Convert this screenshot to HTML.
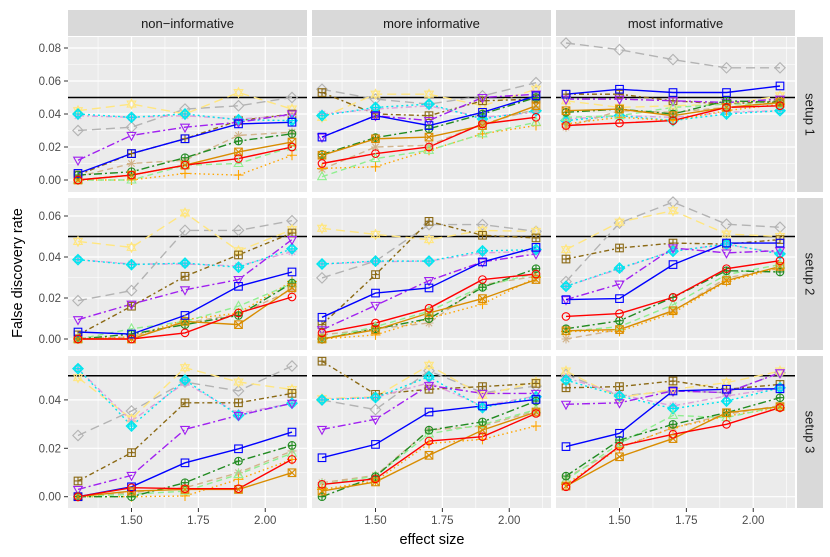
<!DOCTYPE html>
<html><head><meta charset="utf-8"><style>
body{margin:0;background:#fff;}
svg{display:block;font-family:"Liberation Sans",sans-serif;}
</style></head><body>
<svg id="chart" width="830" height="557" viewBox="0 0 830 557" xmlns="http://www.w3.org/2000/svg"></svg>
<script>
const effectSizes = [1.3, 1.5, 1.7, 1.9, 2.1];
const colLabels = ["non\u2212informative", "more informative", "most informative"];
const rowLabels = ["setup 1", "setup 2", "setup 3"];
const xTicks = [1.5, 1.75, 2.0];
const xTickLabels = ["1.50", "1.75", "2.00"];
const yTicksRow1 = [0, 0.02, 0.04, 0.06, 0.08];
const yTicksRow2 = [0, 0.02, 0.04, 0.06];
const yTicksRow3 = [0, 0.02, 0.04];
const fdrLevel = 0.05;
const redSeries = [
 [0,.003,.009,.013,.020],[.010,.016,.020,.034,.038],[.033,.0345,.036,.044,.045],
 [0,0,.003,.0127,.0205],[.003,.0078,.015,.029,.0317],[.011,.0124,.0203,.0343,.0382],
 [0,.0037,.0033,.0033,.0154],[.0051,.0074,.023,.0248,.0344],[.0041,.0209,.0258,.0299,.0368]];
const blueSeries = [
 [.004,.016,.025,.034,.035],[.026,.039,.033,.041,.051],[.052,.055,.053,.053,.057],
 [.0034,.0024,.0115,.0257,.0327],[.0106,.0224,.0249,.0376,.0447],[.0192,.0197,.0363,.0468,.0468],
 [0,.0041,.014,.0198,.0267],[.0161,.0216,.035,.0375,.0402],[.0207,.0262,.0437,.0444,.0446]];
const darkOrangeSeries = [
 [0,.003,.009,.017,.023],[.015,.025,.026,.033,.045],[.042,.043,.039,.044,.047],
 [0,0,.0086,.007,.025],[0,.0045,.0127,.0197,.029],[.004,.0046,.0138,.0285,.0354],
 [0,.0023,.003,.003,.0099],[.0023,.0061,.0171,.0275,.035],[.0044,.0165,.024,.0347,.0372]];
const darkGreenSeries = [
 [.003,.005,.0135,.0236,.028],[.0155,.0257,.031,.040,.050],[.041,.043,.040,.048,.047],
 [0,.0024,.007,.0115,.0273],[0,.005,.0099,.0252,.0343],[.005,.0089,.0203,.0333,.0327],
 [0,0,.0058,.0147,.0212],[0,.0083,.0275,.0309,.0395],[.0085,.0234,.0299,.0347,.0409]];
const lightGreenSeries = [
 [0,0,.009,.010,.020],[.002,.013,.018,.028,.035],[.038,.039,.044,.046,.046],
 [0,.005,.0086,.016,.027],[0,.006,.0135,.0257,.032],[.0037,.006,.0167,.0314,.0363],
 [0,.001,.0023,.0092,.018],[.005,.0085,.026,.0298,.0360],[.0069,.0220,.0336,.0327,.0375]];
const orangeDotSeries = [
 [0,0,.004,.003,.015],[.007,.008,.018,.028,.033],[.034,.038,.036,.042,.046],
 [0,.001,.0094,.0127,.0281],[0,.002,.010,.017,.030],[.0037,.0037,.0127,.0281,.0346],
 [0,0,.0003,.0072,.0154],[.003,.0065,.022,.0237,.0292],[.0051,.0202,.0285,.0333,.0368]];
const tanSeries = [
 [.002,.010,.012,.027,.029],[.0065,.020,.021,.034,.043],[.032,.042,.041,.044,.047],
 [0,.001,.008,.012,.024],[.002,.005,.0078,.0265,.0306],[0,.0046,.0135,.0298,.0346],
 [0,.0017,.0037,.0099,.0189],[.0058,.0088,.0275,.0292,.0354],[.0078,.0202,.0285,.0340,.0377]];
const purpleSeries = [
 [.012,.027,.032,.035,.040],[.026,.039,.036,.050,.052],[.049,.049,.048,.047,.049],
 [.0094,.017,.024,.029,.0485],[.0045,.0164,.0285,.0376,.0415],[.0192,.0268,.0444,.042,.0431],
 [.003,.0088,.0278,.0336,.0386],[.0278,.032,.046,.0427,.0427],[.0382,.0388,.0437,.043,.0512]];
const cyanSeries = [
 [.040,.038,.040,.0365,.036],[.039,.044,.046,.037,.042],[.036,.039,.036,.040,.042],
 [.0387,.0363,.037,.035,.044],[.0366,.038,.038,.043,.0436],[.0257,.0346,.0428,.0463,.0415],
 [.0529,.0292,.0482,.0336,.0386],[.040,.041,.0496,.0368,.0413],[.0482,.0416,.0364,.0395,.045]];
const plumSeries = [
 [.039,.038,.039,.037,.039],[.040,.043,.045,.038,.041],[.037,.039,.038,.041,.042],
 [.0387,.0366,.0366,.0356,.0426],[.0366,.0377,.038,.0420,.0428],[.0257,.0342,.0431,.0460,.0420],
 [.0529,.0313,.0471,.0344,.0386],[.0402,.0410,.0471,.0375,.0416],[.0492,.0423,.0375,.0416,.045]];
const graySeries = [
 [.030,.032,.043,.045,.050],[.055,.049,.046,.051,.059],[.083,.079,.073,.068,.068],
 [.0187,.0236,.053,.053,.0577],[.0298,.038,.0558,.0558,.0525],[.028,.0566,.0668,.056,.0545],
 [.0253,.0354,.0474,.0437,.054],[.040,.036,.052,.043,.0457],[.0505,.0416,.0437,.043,.0512]];
const brownSeries = [
 [.003,.016,.025,.036,.040],[.053,.040,.039,.048,.049],[.052,.052,.048,.046,.048],
 [.002,.016,.0306,.041,.0517],[.007,.0314,.0574,.0506,.0493],[.039,.0444,.0468,.0463,.0485],
 [.0065,.0182,.0388,.0388,.0427],[.056,.0423,.0444,.0455,.0468],[.045,.0455,.0478,.0444,.0464]];
const yellowSeries = [
 [.042,.046,.040,.053,.043],[.038,.052,.052,.045,.055],[.048,.044,.045,.046,.051],
 [.0476,.0447,.0615,.043,.0533],[.054,.051,.0485,.053,.0525],[.0436,.057,.0626,.0512,.050],
 [.0492,.0322,.0533,.0474,.0443],[.0405,.0413,.0543,.0419,.0474],[.0519,.0409,.0444,.0471,.0519]];

const series = [
 {name:'gray', data:graySeries, color:'#b3b3b3', dash:'9,5', shape:'diamond'},
 {name:'yellow', data:yellowSeries, color:'#ffe680', dash:'9,5', shape:'star'},
 {name:'brown', data:brownSeries, color:'#8b6914', dash:'5,3,2,3', shape:'squareplus'},
 {name:'plum', data:plumSeries, color:'#dda0dd', dash:'6,3,2,3', shape:'asterisk'},
 {name:'cyan', data:cyanSeries, color:'#00e5ee', dash:'2,3', shape:'circleplusdiamond'},
 {name:'purple', data:purpleSeries, color:'#a020f0', dash:'8,3,2,3', shape:'triangledown'},
 {name:'tan', data:tanSeries, color:'#d2b48c', dash:'6,4', shape:'asterisk'},
 {name:'orange-dotted', data:orangeDotSeries, color:'#ffa500', dash:'1.5,3', shape:'plus'},
 {name:'light-green', data:lightGreenSeries, color:'#90ee90', dash:'6,4', shape:'triangle'},
 {name:'dark-green', data:darkGreenSeries, color:'#228b22', dash:'8,3,2,3', shape:'circleplus'},
 {name:'dark-orange', data:darkOrangeSeries, color:'#d98c00', dash:null, shape:'squarex'},
 {name:'blue', data:blueSeries, color:'#0000ff', dash:null, shape:'square'},
 {name:'red', data:redSeries, color:'#ff0000', dash:null, shape:'circle'}
];

const svg = document.getElementById('chart');
const NS = 'http://www.w3.org/2000/svg';
function mk(tag, attrs, parent){const e=document.createElementNS(NS,tag);for(const k in attrs)e.setAttribute(k,attrs[k]);(parent||svg).appendChild(e);return e;}

const colLeft=[68,312,556], panelW=239;
const rowTop=[37,198,356], rowH=[155,152,152];
const rowZero=[180,339,496.7], rowScale=[1650,2050,2420];
const rowTicks=[yTicksRow1,yTicksRow2,yTicksRow3];
function xPos(c,v){return colLeft[c]+10+(v-1.3)/0.8*214;}
function yPos(r,v){return rowZero[r]-v*rowScale[r];}

for(let c=0;c<3;c++){
 const s=mk('rect',{x:colLeft[c],y:10,width:panelW,height:26,fill:'#d9d9d9'});
 
 
 const t=mk('text',{x:colLeft[c]+panelW/2,y:28,'text-anchor':'middle','font-size':13,fill:'#1a1a1a'});
 t.textContent=colLabels[c];
 
 
}
for(let r=0;r<3;r++){
 const s=mk('rect',{x:797,y:rowTop[r],width:26,height:rowH[r],fill:'#d9d9d9'});
 
 
 const cy=rowTop[r]+rowH[r]/2, cx=810;
 const t=mk('text',{x:cx,y:cy,'text-anchor':'middle','dominant-baseline':'central','font-size':13,fill:'#1a1a1a',transform:`rotate(90 ${cx} ${cy})`});
 t.textContent=rowLabels[r];
 
 
}

for(let r=0;r<3;r++){
 const ticks=rowTicks[r];
 for(let c=0;c<3;c++){
  const L=colLeft[c], T=rowTop[r], H=rowH[r];
  const g=mk('g',{});
  
  
  mk('rect',{x:L,y:T,width:panelW,height:H,fill:'#ebebeb'},g);
  for(let i=0;i<ticks.length;i++){
   const mv=ticks[i]+0.01; const y=yPos(r,mv);
   if(y>T) mk('line',{x1:L,x2:L+panelW,y1:y,y2:y,stroke:'#fff','stroke-width':0.6},g);
  }
  [1.375,1.625,1.875,2.125].forEach(v=>{const x=xPos(c,v); if(x<L+panelW) mk('line',{x1:x,x2:x,y1:T,y2:T+H,stroke:'#fff','stroke-width':0.6},g);});
  ticks.forEach(v=>{const y=yPos(r,v);mk('line',{x1:L,x2:L+panelW,y1:y,y2:y,stroke:'#fff','stroke-width':1.2},g);});
  xTicks.forEach(v=>{const x=xPos(c,v);mk('line',{x1:x,x2:x,y1:T,y2:T+H,stroke:'#fff','stroke-width':1.2},g);});
  const ref=mk('line',{x1:L,x2:L+panelW,y1:yPos(r,fdrLevel),y2:yPos(r,fdrLevel),stroke:'#000','stroke-width':1.5},g);
  
  
  const p=r*3+c;
  series.forEach(s=>{
   const vals=s.data[p];
   const pts=vals.map((v,i)=>xPos(c,effectSizes[i]).toFixed(1)+','+yPos(r,v).toFixed(1)).join(' ');
   const a={points:pts,fill:'none',stroke:s.color,'stroke-width':1.4};
   if(s.dash)a['stroke-dasharray']=s.dash;
   const pl=mk('polyline',a,g);
   
   
  });
  series.forEach(s=>{
   s.data[p].forEach((v,i)=>{
    const m=marker(g,s.shape,xPos(c,effectSizes[i]),yPos(r,v),s.color);
    
    
   });
  });
 }
 ticks.forEach(v=>{
  const y=yPos(r,v);
  mk('line',{x1:64,x2:68,y1:y,y2:y,stroke:'#333','stroke-width':1});
  const t=mk('text',{x:61,y:y+4,'text-anchor':'end','font-size':11.5,fill:'#4d4d4d'});
  t.textContent=v.toFixed(2);
  
  
 });
}
for(let c=0;c<3;c++){
 xTicks.forEach((v,i)=>{
  const x=xPos(c,v);
  mk('line',{x1:x,x2:x,y1:508,y2:512,stroke:'#333','stroke-width':1});
  const t=mk('text',{x:x,y:524,'text-anchor':'middle','font-size':11.5,fill:'#4d4d4d'});
  t.textContent=xTickLabels[i];
  
  
 });
}
const xt=mk('text',{x:432,y:544,'text-anchor':'middle','font-size':14.5,fill:'#000'});
xt.textContent='effect size';


const yt=mk('text',{x:22,y:273,'text-anchor':'middle','font-size':14.5,fill:'#000',transform:'rotate(-90 22 273)'});
yt.textContent='False discovery rate';



function marker(g,shape,x,y,col){
 const gg=mk('g',{fill:'none',stroke:col,'stroke-width':1.1},g);
 const r=3.8;
 if(shape==='circle'||shape==='circleplus'){
  mk('circle',{cx:x,cy:y,r:r},gg);
  if(shape==='circleplus'){mk('path',{d:`M${x-r} ${y}H${x+r}M${x} ${y-r}V${y+r}`},gg);}
 } else if(shape==='square'||shape==='squarex'||shape==='squareplus'){
  mk('rect',{x:x-r,y:y-r,width:2*r,height:2*r},gg);
  if(shape==='squarex')mk('path',{d:`M${x-r} ${y-r}L${x+r} ${y+r}M${x-r} ${y+r}L${x+r} ${y-r}`},gg);
  if(shape==='squareplus')mk('path',{d:`M${x-r} ${y}H${x+r}M${x} ${y-r}V${y+r}`},gg);
 } else if(shape==='triangle'){
  mk('polygon',{points:`${x},${y-4.8} ${x-4.3},${y+3} ${x+4.3},${y+3}`},gg);
 } else if(shape==='triangledown'){
  mk('polygon',{points:`${x},${y+4.8} ${x-4.3},${y-3} ${x+4.3},${y-3}`},gg);
 } else if(shape==='star'){
  mk('polygon',{points:`${x},${y-4.8} ${x-4.3},${y+3} ${x+4.3},${y+3}`},gg);
  mk('polygon',{points:`${x},${y+4.8} ${x-4.3},${y-3} ${x+4.3},${y-3}`},gg);
 } else if(shape==='plus'){
  mk('path',{d:`M${x-5} ${y}H${x+5}M${x} ${y-5}V${y+5}`},gg);
 } else if(shape==='asterisk'){
  mk('path',{d:`M${x-4.5} ${y}H${x+4.5}M${x} ${y-4.5}V${y+4.5}M${x-3.2} ${y-3.2}L${x+3.2} ${y+3.2}M${x-3.2} ${y+3.2}L${x+3.2} ${y-3.2}`},gg);
 } else if(shape==='diamond'){
  mk('polygon',{points:`${x},${y-5.2} ${x+5.2},${y} ${x},${y+5.2} ${x-5.2},${y}`},gg);
 } else if(shape==='circleplusdiamond'){
  mk('polygon',{points:`${x},${y-5.2} ${x+5.2},${y} ${x},${y+5.2} ${x-5.2},${y}`},gg);
  mk('circle',{cx:x,cy:y,r:3},gg);
  mk('path',{d:`M${x-5.2} ${y}H${x+5.2}M${x} ${y-5.2}V${y+5.2}`},gg);
 }
 return gg;
}
</script>
</body></html>
